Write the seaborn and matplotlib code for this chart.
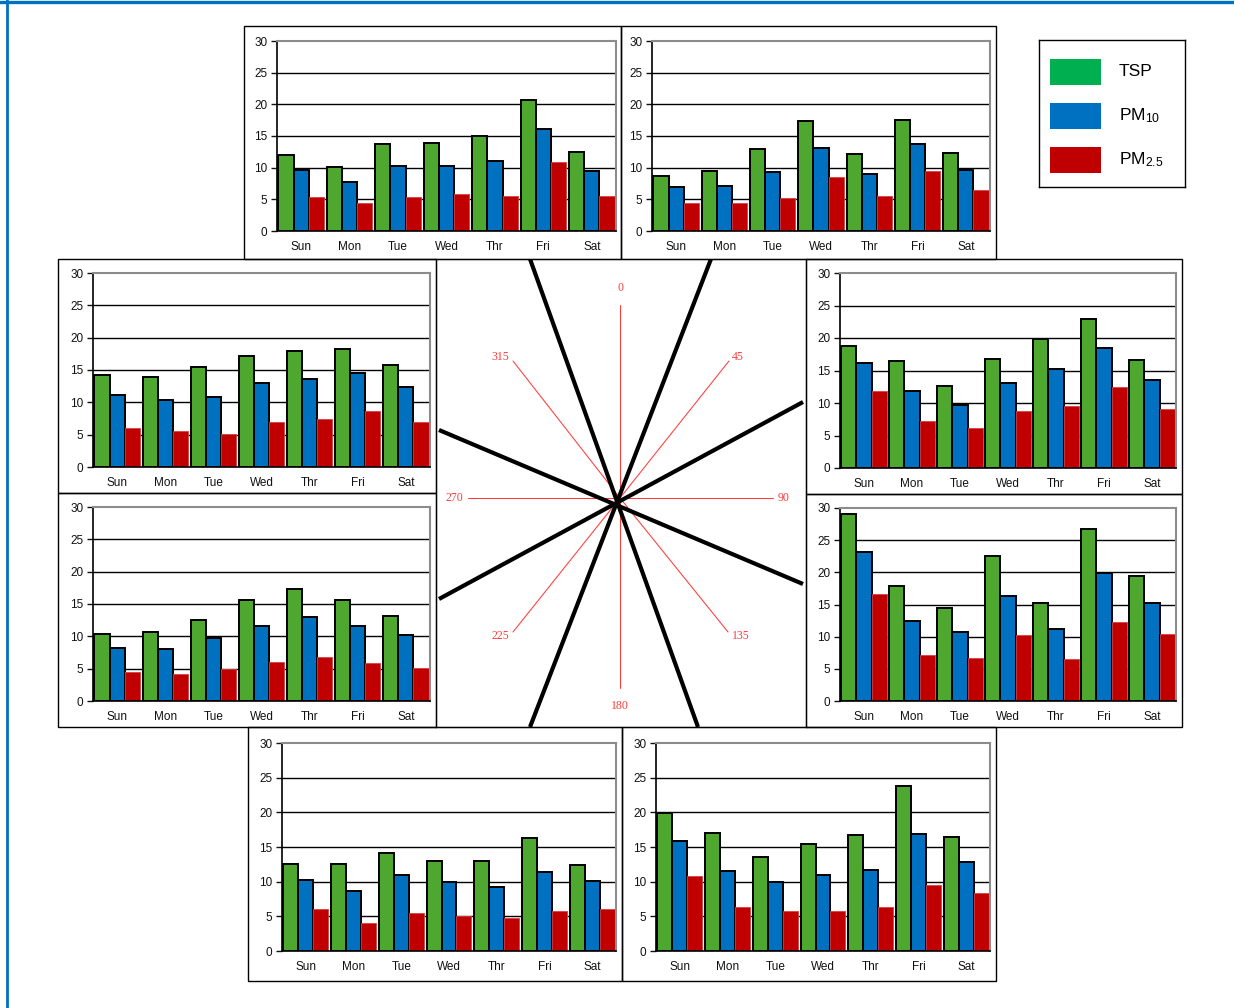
import numpy as np
import pandas as pd
import matplotlib
matplotlib.use("Agg")
import matplotlib.pyplot as plt
import seaborn as sns
from matplotlib.patches import Rectangle
from matplotlib.lines import Line2D

# ---- data: daily mean concentrations for each wind sector ----
days = ["Sun", "Mon", "Tue", "Wed", "Thr", "Fri", "Sat"]
pollutants = ["TSP", "PM10", "PM2.5"]

tsp_nnw = [12.0, 10.1, 13.8, 13.9, 15.0, 20.7, 12.5]
pm10_nnw = [9.6, 7.8, 10.3, 10.3, 11.0, 16.1, 9.5]
pm25_nnw = [5.3, 4.5, 5.3, 5.8, 5.6, 10.9, 5.6]

tsp_nne = [8.7, 9.4, 12.9, 17.3, 12.2, 17.6, 12.3]
pm10_nne = [7.0, 7.1, 9.3, 13.1, 9.0, 13.8, 9.6]
pm25_nne = [4.4, 4.5, 5.2, 8.6, 5.6, 9.5, 6.5]

tsp_wnw = [14.2, 13.9, 15.4, 17.1, 17.9, 18.3, 15.8]
pm10_wnw = [11.2, 10.3, 10.8, 13.0, 13.6, 14.5, 12.3]
pm25_wnw = [6.0, 5.6, 5.1, 6.9, 7.4, 8.6, 6.9]

tsp_ene = [18.7, 16.5, 12.6, 16.8, 19.8, 22.9, 16.6]
pm10_ene = [16.2, 11.8, 9.7, 13.1, 15.3, 18.4, 13.5]
pm25_ene = [11.8, 7.2, 6.2, 8.7, 9.5, 12.4, 9.1]

tsp_wsw = [10.4, 10.6, 12.5, 15.6, 17.3, 15.6, 13.1]
pm10_wsw = [8.2, 8.0, 9.7, 11.6, 13.0, 11.6, 10.2]
pm25_wsw = [4.5, 4.1, 5.0, 6.1, 6.75, 5.8, 5.1]

tsp_ese = [29.1, 17.9, 14.4, 22.5, 15.2, 26.7, 19.4]
pm10_ese = [23.1, 12.5, 10.7, 16.3, 11.2, 19.9, 15.2]
pm25_ese = [16.6, 7.2, 6.7, 10.2, 6.5, 12.3, 10.4]

tsp_ssw = [12.6, 12.6, 14.1, 13.0, 13.0, 16.3, 12.4]
pm10_ssw = [10.2, 8.7, 10.9, 9.9, 9.2, 11.4, 10.1]
pm25_ssw = [6.0, 4.1, 5.5, 5.0, 4.7, 5.8, 6.1]

tsp_sse = [19.9, 17.0, 13.6, 15.5, 16.7, 23.8, 16.4]
pm10_sse = [15.9, 11.6, 9.9, 10.95, 11.7, 16.9, 12.8]
pm25_sse = [10.8, 6.4, 5.7, 5.8, 6.4, 9.5, 8.3]

compass_labels = ["0", "45", "90", "135", "180", "225", "270", "315"]
legend_labels = ["TSP", "PM$_{10}$", "PM$_{2.5}$"]

# ---- styling ----
sns.set_theme(style="white")
plt.rcParams["font.family"] = ["Liberation Sans", "DejaVu Sans"]
plt.rcParams["mathtext.default"] = "regular"

bar_colors = {"TSP": "#4EA72E", "PM10": "#0070C0", "PM2.5": "#C00000"}
legend_colors = ["#00B050", "#0070C0", "#C00000"]

W, H = 1234, 1008
fig = plt.figure(figsize=(W / 100, H / 100), dpi=100)
fig.patch.set_facecolor("white")


def fig_rect(x0, y0, x1, y1):
    """Pixel box (top-left origin) -> figure fraction rect."""
    return [x0 / W, 1 - y1 / H, (x1 - x0) / W, (y1 - y0) / H]


def frame(x0, y0, x1, y1, color="black", lw=1.0):
    r = fig_rect(x0, y0, x1, y1)
    fig.add_artist(Rectangle((r[0], r[1]), r[2], r[3], transform=fig.transFigure,
                             fill=False, edgecolor=color, linewidth=lw))


def draw_panel(ax, tsp, pm10, pm25):
    df = pd.DataFrame({
        "day": days * 3,
        "pollutant": [p for p in pollutants for _ in days],
        "value": list(tsp) + list(pm10) + list(pm25),
    })
    for v in range(5, 30, 5):
        ax.axhline(v, color="black", lw=1.0, zorder=0)
    sns.barplot(data=df, x="day", y="value", hue="pollutant", order=days,
                hue_order=pollutants, palette=bar_colors, saturation=1,
                width=0.94, edgecolor="black", linewidth=1.4, legend=False,
                errorbar=None, ax=ax, zorder=2)
    for bar in ax.containers[2]:
        bar.set_edgecolor("#D84040")
        bar.set_linewidth(0.6)
    ax.set_xlim(-0.5, 6.5)
    ax.set_ylim(0, 30)
    ax.set_yticks(range(0, 31, 5))
    ax.set_xticks(np.arange(len(days)))
    ax.set_xticklabels(days)
    ax.set_xticks(np.arange(-0.5, len(days), 1), minor=True)
    ax.tick_params(axis="x", which="major", length=0, pad=7, labelsize=8.5,
                   colors="#111111")
    ax.tick_params(axis="x", which="minor", length=4, width=1, direction="out",
                   color="black")
    ax.tick_params(axis="y", length=4, width=1, direction="out", pad=3,
                   labelsize=8.5, colors="#111111", left=True)
    ax.set_xlabel("")
    ax.set_ylabel("")
    for side in ("left", "bottom"):
        ax.spines[side].set_color("black")
        ax.spines[side].set_linewidth(1.2)
    for side in ("top", "right"):
        ax.spines[side].set_color("#8C8C8C")
        ax.spines[side].set_linewidth(1.5)
    ax.set_facecolor("white")


panels = [
    # frame box, plot box, series
    ((244, 26, 621, 259), (277, 41, 616, 231), (tsp_nnw, pm10_nnw, pm25_nnw)),
    ((621, 26, 996, 259), (652, 41, 990, 231), (tsp_nne, pm10_nne, pm25_nne)),
    ((58, 259, 436, 493), (93, 273, 430, 467), (tsp_wnw, pm10_wnw, pm25_wnw)),
    ((806, 259, 1182, 494), (840, 273, 1176, 468), (tsp_ene, pm10_ene, pm25_ene)),
    ((58, 493, 436, 727), (93, 507, 430, 701), (tsp_wsw, pm10_wsw, pm25_wsw)),
    ((806, 494, 1182, 727), (840, 508, 1176, 701), (tsp_ese, pm10_ese, pm25_ese)),
    ((248, 727, 622, 981), (282, 743, 616, 951), (tsp_ssw, pm10_ssw, pm25_ssw)),
    ((622, 727, 996, 981), (656, 743, 990, 951), (tsp_sse, pm10_sse, pm25_sse)),
]

for fbox, pbox, series in panels:
    frame(*fbox)
    ax = fig.add_axes(fig_rect(*pbox))
    draw_panel(ax, *series)

# ---- central compass ----
cx, cy = 620, 498
cax = fig.add_axes(fig_rect(436, 259, 806, 727))
cax.set_xlim(436, 806)
cax.set_ylim(727, 259)
cax.set_xticks([])
cax.set_yticks([])
for s in cax.spines.values():
    s.set_color("#8C8C8C")
    s.set_linewidth(1.0)

red = "#FF3B3B"
# bearing lines: (end x, end y), (label x, label y)
rays = [
    ((cx, 305), (cx, 288)),
    ((729, 361), (738, 357)),
    ((773, cy), (784, cy)),
    ((728, 632), (741, 636)),
    ((cx, 688), (cx, 706)),
    ((513, 632), (500, 636)),
    ((468, cy), (454, cy)),
    ((513, 361), (500, 357)),
]
for (end, lab), txt in zip(rays, compass_labels):
    cax.plot([cx, end[0]], [cy, end[1]], color=red, lw=0.75, zorder=1)
    cax.text(lab[0], lab[1], txt, color=red, fontsize=8.5,
             family=["Liberation Serif", "DejaVu Serif"],
             ha="center", va="center", zorder=2)

# sector boundaries
sector_lines = [
    ((530, 259), (698, 727)),
    ((711, 259), (530, 727)),
    ((439, 430), (803, 584)),
    ((439, 599), (803, 402)),
]
for p, q in sector_lines:
    cax.plot([p[0], q[0]], [p[1], q[1]], color="black", lw=3.0,
             solid_capstyle="butt", zorder=3)

# ---- legend ----
lax = fig.add_axes(fig_rect(1039, 40, 1185, 187))
lax.set_xlim(1039, 1185)
lax.set_ylim(187, 40)
lax.set_xticks([])
lax.set_yticks([])
for s in lax.spines.values():
    s.set_color("black")
    s.set_linewidth(1.0)
for i, (lbl, col) in enumerate(zip(legend_labels, legend_colors)):
    y0 = 59 + i * 44
    lax.add_patch(Rectangle((1050, y0), 51, 26, facecolor=col,
                            edgecolor="none"))
    lax.text(1119, y0 + 13, lbl, fontsize=12.5, ha="left", va="center",
             color="black")

# ---- outer page border ----
fig.add_artist(Line2D([0, 1], [1 - 1.5 / H, 1 - 1.5 / H], transform=fig.transFigure,
                      color="#0070C0", lw=2.4))
fig.add_artist(Line2D([7 / W, 7 / W], [0, 1], transform=fig.transFigure,
                      color="#0070C0", lw=2.0))

fig.savefig("out.png", dpi=100, facecolor="white")
